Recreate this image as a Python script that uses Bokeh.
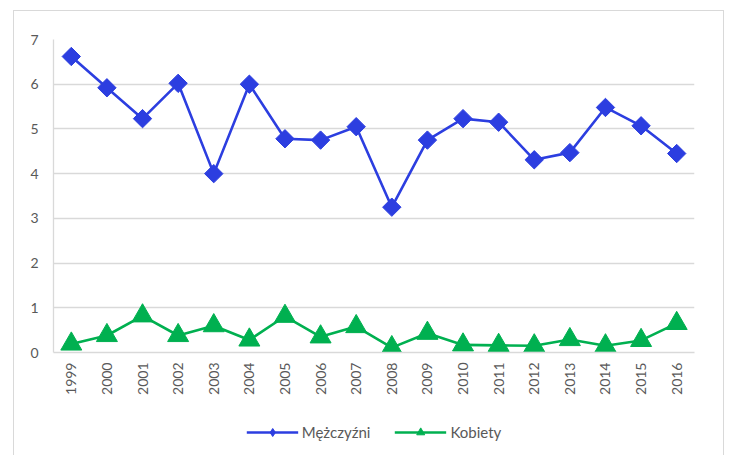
from bokeh.plotting import figure
from bokeh.layouts import column
from bokeh.models import Range1d, FactorRange, FixedTicker, Legend, LegendItem, ColumnDataSource
from bokeh.embed import file_html
from bokeh.resources import INLINE
import math

years = [str(y) for y in range(1999, 2017)]
men = [6.62, 5.92, 5.23, 6.02, 4.0, 6.0, 4.78, 4.75, 5.05, 3.25, 4.75, 5.23, 5.15, 4.31, 4.47, 5.48, 5.07, 4.45]
women = [0.19, 0.38, 0.82, 0.38, 0.6, 0.28, 0.81, 0.35, 0.58, 0.11, 0.43, 0.17, 0.16, 0.15, 0.29, 0.15, 0.27, 0.65]
y_ticks = [0, 1, 2, 3, 4, 5, 6, 7]
labels = ["Mężczyźni", "Kobiety"]

BLUE = "#2C3EE0"
GREEN = "#00B050"
FONT = "Lato"
TXT = "#595959"
GRID = "#D9D9D9"

src = ColumnDataSource(dict(year=years, men=men, women=women))

p = figure(width=709, height=398, x_range=FactorRange(*years), y_range=Range1d(0, 7),
           output_backend="svg", toolbar_location=None,
           min_border_left=39, min_border_top=28, min_border_right=29, min_border_bottom=57)
p.outline_line_color = None
p.background_fill_color = "white"
p.border_fill_color = "white"

p.xgrid.grid_line_color = None
p.ygrid.grid_line_color = GRID
p.ygrid.grid_line_width = 1.3
p.yaxis.ticker = FixedTicker(ticks=y_ticks)

for ax in (p.xaxis, p.yaxis):
    ax.axis_line_color = GRID
    ax.axis_line_width = 1.3
    ax.major_tick_line_color = None
    ax.minor_tick_line_color = None
    ax.major_tick_out = 0
    ax.major_tick_in = 0
    ax.major_label_text_font = FONT
    ax.major_label_text_font_size = "14px"
    ax.major_label_text_color = TXT

p.yaxis.major_label_standoff = 15
p.xaxis.major_label_standoff = 10
p.xaxis.major_label_orientation = math.pi / 2

def add_series(fig, men_marker, men_size, men_angle):
    l1 = fig.line("year", "men", source=src, line_color=BLUE, line_width=2.6)
    s1 = fig.scatter("year", "men", source=src, marker=men_marker, angle=men_angle, size=men_size,
                     fill_color=BLUE, line_color=BLUE)
    l2 = fig.line("year", "women", source=src, line_color=GREEN, line_width=2.6)
    s2 = fig.scatter("year", "women", source=src, marker="triangle", size=21,
                     fill_color=GREEN, line_color=GREEN)
    return l1, s1, l2, s2

add_series(p, "square", 13, math.pi / 4)

# legend strip below the chart (series kept out of its visible range)
q = figure(width=709, height=46, x_range=FactorRange(*years), y_range=Range1d(100, 101),
           output_backend="svg", toolbar_location=None,
           x_axis_type=None, y_axis_type=None, min_border=0)
q.outline_line_color = None
q.xgrid.grid_line_color = None
q.ygrid.grid_line_color = None
q.background_fill_color = "white"
q.border_fill_color = "white"
ql1, qs1, ql2, qs2 = add_series(q, "diamond", 13, 0)

legend = Legend(items=[LegendItem(label=labels[0], renderers=[ql1, qs1]),
                       LegendItem(label=labels[1], renderers=[ql2, qs2])],
                orientation="horizontal", location="center")
legend.glyph_width = 52
legend.glyph_height = 20
legend.label_standoff = 4
legend.spacing = 24
legend.label_text_font = FONT
legend.label_text_font_size = "15px"
legend.label_text_color = TXT
legend.border_line_color = None
legend.background_fill_alpha = 0
legend.margin = 0
legend.padding = 2
q.add_layout(legend, "center")

layout = column(p, q, spacing=0)
layout.margin = (10, 0, 0, 13)
layout.styles = {"border": "1px solid #D9D9D9", "background-color": "white"}

open("out.html", "w").write(file_html(layout, INLINE))
